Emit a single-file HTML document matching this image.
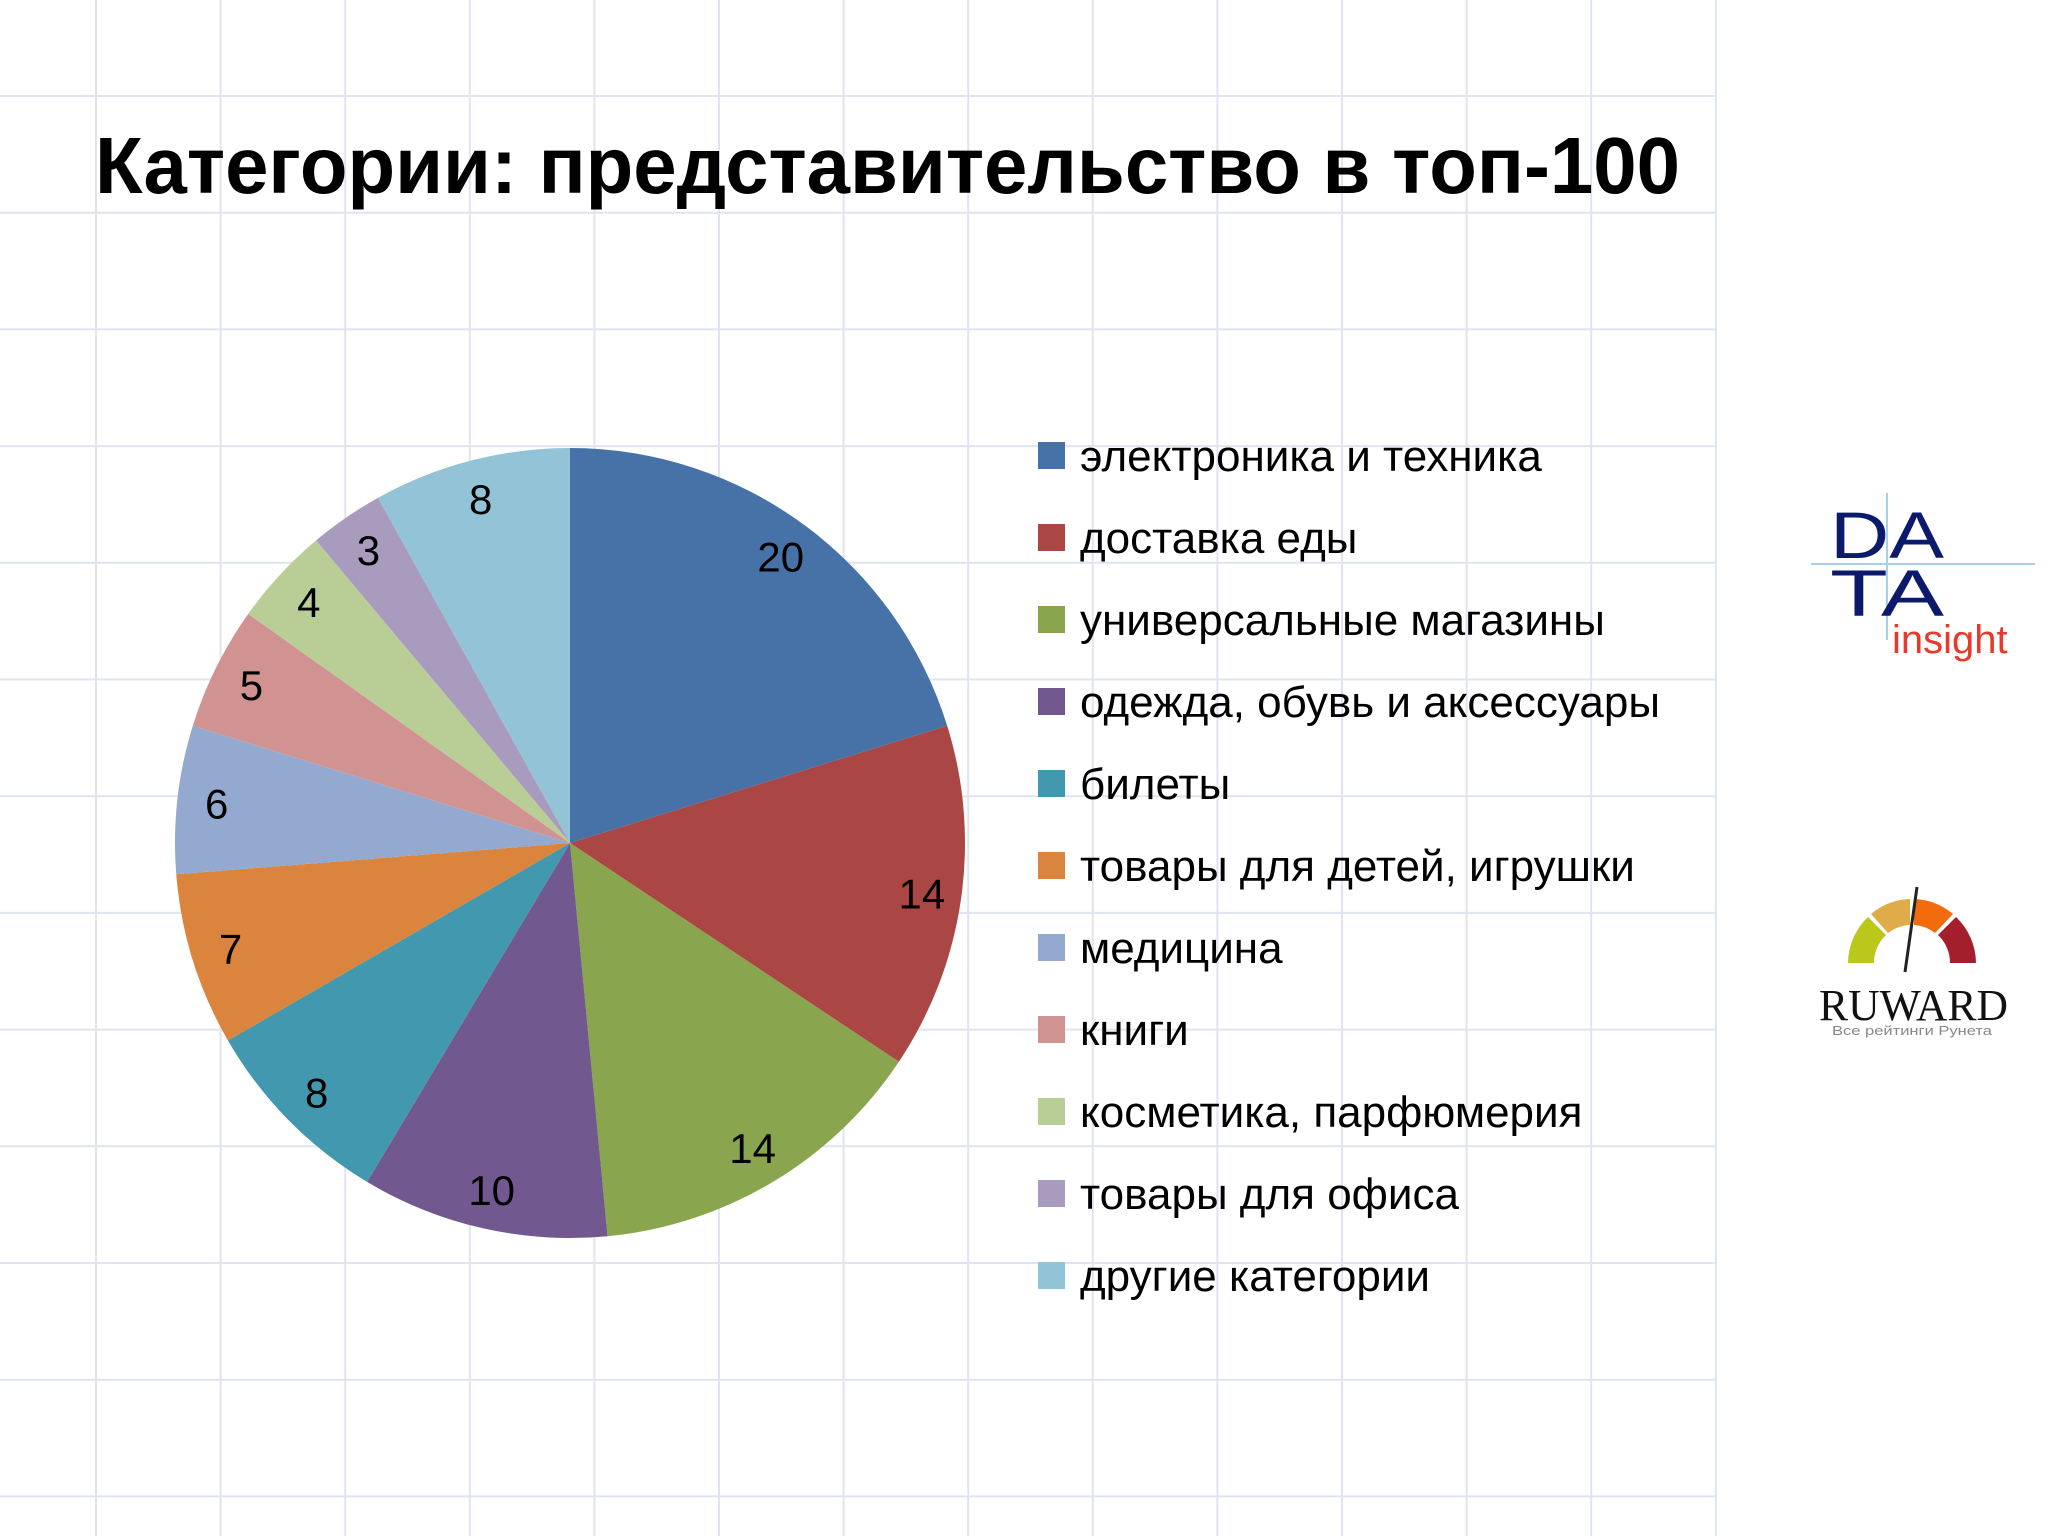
<!DOCTYPE html>
<html><head><meta charset="utf-8"><style>
html,body{margin:0;padding:0;background:#fff;}
svg{display:block;font-family:"Liberation Sans","DejaVu Sans",sans-serif;}
</style></head><body>
<svg id="chart" width="2048" height="1536" viewBox="0 0 2048 1536" xmlns="http://www.w3.org/2000/svg">
<g id="grid"></g>
<text x="95" y="193" font-size="80" font-weight="bold" fill="#000" textLength="1585" lengthAdjust="spacingAndGlyphs">Категории: представительство в топ-100</text>
<g id="pie"></g>
<g id="legend"></g>
<g transform="translate(-13,0)">
<line x1="1824" y1="564" x2="2048" y2="564" stroke="#a8d0e6" stroke-width="2"/>
<line x1="1900" y1="493" x2="1900" y2="640" stroke="#a8d0e6" stroke-width="2"/>
<text x="1843" y="558" font-size="66" fill="#0b1a6b" textLength="114" lengthAdjust="spacingAndGlyphs">DA</text>
<text x="1843" y="616" font-size="66" fill="#0b1a6b" textLength="114" lengthAdjust="spacingAndGlyphs">TA</text>
<text x="1905" y="653" font-size="40" fill="#e8392a">insight</text>
</g>
<g transform="translate(-11,-3)">
<path d="M1859,966 A64,64 0 0 1 1879,920 L1897,938 A38,38 0 0 0 1885,966 Z" fill="#b9c81b"/>
<path d="M1882,917 A64,64 0 0 1 1921,902 L1921,928 A38,38 0 0 0 1899,936 Z" fill="#e0ac4a"/>
<path d="M1925,902 A64,64 0 0 1 1964,917 L1946,936 A38,38 0 0 0 1925,928 Z" fill="#f26b0c"/>
<path d="M1967,920 A64,64 0 0 1 1987,966 L1961,966 A38,38 0 0 0 1949,938 Z" fill="#a31f2b"/>
<line x1="1928" y1="890" x2="1916" y2="975" stroke="#222" stroke-width="3"/>
<text x="1830" y="1023" font-family="Liberation Serif,serif" font-size="44" fill="#111" textLength="189" lengthAdjust="spacingAndGlyphs">RUWARD</text>
<text x="1843" y="1038" font-size="13" fill="#888" textLength="160" lengthAdjust="spacingAndGlyphs">Все рейтинги Рунета</text>
</g>
</svg>
<script>
const categories=["электроника и техника","доставка еды","универсальные магазины","одежда, обувь и аксессуары","билеты","товары для детей, игрушки","медицина","книги","косметика, парфюмерия","товары для офиса","другие категории"];
const values=[20,14,14,10,8,7,6,5,4,3,8];
const colors=["#4672a8","#aa4643","#89a54e","#71588f","#4198af","#db843d","#93a9cf","#d19392","#b9cd96","#a99bbd","#93c3d6"];
const NS="http://www.w3.org/2000/svg";
function mk(t,a,p){const e=document.createElementNS(NS,t);for(const k in a)e.setAttribute(k,a[k]);p.appendChild(e);return e;}
const grid=document.getElementById('grid');
for(let i=0;i<14;i++){const x=96+i*124.6;const l=mk('line',{x1:x,y1:0,x2:x,y2:1536,stroke:'#dfe4ee','stroke-width':2},grid);}
for(let i=0;i<13;i++){const y=96+i*116.7;const l=mk('line',{x1:0,y1:y,x2:1717,y2:y,stroke:'#dfe4ee','stroke-width':2},grid);}
const cx=570,cy=843,r=395;
const total=values.reduce((a,b)=>a+b,0);
function ang(v){return v/total*2*Math.PI;}
function pt(a,rr){return [cx+rr*Math.sin(a),cy-rr*Math.cos(a)];}
const pie=document.getElementById('pie');
let acc=0;
values.forEach((v,i)=>{
const a0=ang(acc),a1=ang(acc+v);acc+=v;
const p0=pt(a0,r),p1=pt(a1,r);const large=(a1-a0)>Math.PI?1:0;
const s=mk('path',{d:`M${cx},${cy} L${p0[0]},${p0[1]} A${r},${r} 0 ${large} 1 ${p1[0]},${p1[1]} Z`,fill:colors[i]},pie);


const m=pt((a0+a1)/2,r*0.9);
const t=mk('text',{x:m[0],y:m[1]+15,'font-size':42,'text-anchor':'middle',fill:'#000'},pie);
t.textContent=v;


});
const lg=document.getElementById('legend');
categories.forEach((c,i)=>{
const y=456+i*82;
const g=mk('g',{},lg);


mk('rect',{x:1038,y:y-14,width:27,height:27,fill:colors[i]},g);
const t=mk('text',{x:1080,y:y+15,'font-size':44,fill:'#000'},g);
t.textContent=c;
});
</script>
</body></html>
